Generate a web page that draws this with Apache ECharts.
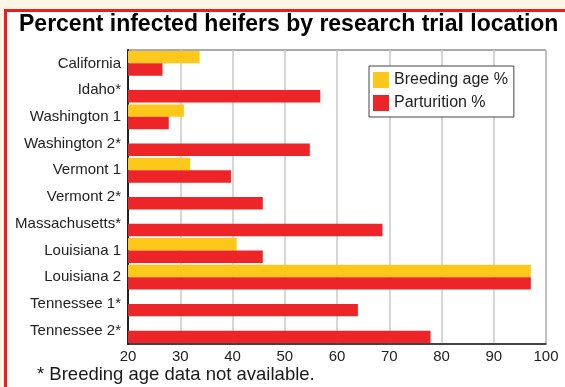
<!DOCTYPE html>
<html>
<head>
<meta charset="utf-8">
<script src="https://cdn.jsdelivr.net/npm/echarts@6/dist/echarts.min.js"></script>
<style>
  html, body { margin: 0; padding: 0; background: #fdf5e6; }
  #chart { width: 565px; height: 387px; }
</style>
</head>
<body>
<div id="chart"></div>
<script>
var locations = ["California", "Idaho*", "Washington 1", "Washington 2*", "Vermont 1", "Vermont 2*",
  "Massachusetts*", "Louisiana 1", "Louisiana 2", "Tennessee 1*", "Tennessee 2*"];
var breedingAge = [33.7, null, 30.7, null, 31.9, null, null, 40.8, 97.1, null, null];
var parturition = [26.6, 56.8, 27.8, 54.8, 39.7, 45.8, 68.7, 45.8, 97.1, 64.0, 77.9];

var chart = echarts.init(document.getElementById("chart"));
var font = "'Liberation Sans', Arial, Helvetica, sans-serif";

var option = {
  backgroundColor: "#fdf5e6",
  animation: false,
  textStyle: { fontFamily: font },
  graphic: [
    {
      type: "rect",
      z: -10,
      shape: { x: 5.5, y: 10.5, width: 700, height: 500 },
      style: { fill: "#ffffff", stroke: "#ee1c1c", lineWidth: 3 }
    },
    {
      type: "text",
      left: 37,
      top: 365,
      style: {
        text: "* Breeding age data not available.",
        font: "18.5px " + font,
        fill: "#1a1a1a"
      }
    }
  ],
  title: {
    text: "Percent infected heifers by research trial location",
    left: 19,
    top: 13,
    padding: 0,
    textStyle: { fontSize: 23, fontWeight: "bold", color: "#000", fontFamily: font }
  },
  legend: {
    orient: "vertical",
    left: 369,
    top: 66,
    padding: [6, 6, 6, 4],
    itemGap: 7,
    itemWidth: 16,
    itemHeight: 16,
    borderColor: "#444",
    borderWidth: 1,
    backgroundColor: "#fff",
    textStyle: { fontSize: 16, color: "#222", fontFamily: font },
    data: [
      { name: "Breeding age %", icon: "rect" },
      { name: "Parturition %", icon: "rect" }
    ]
  },
  grid: {
    left: 128, top: 50, right: 19, bottom: 43,
    show: true, borderColor: "#555", borderWidth: 1
  },
  xAxis: {
    type: "value",
    min: 20, max: 100, interval: 10,
    axisLine: { show: true, lineStyle: { color: "#222", width: 1.5 } },
    axisTick: { show: false },
    axisLabel: { fontSize: 15, color: "#222", margin: 5, fontFamily: font },
    splitLine: { lineStyle: { color: "#c8c8c8", width: 1.5 } }
  },
  yAxis: {
    type: "category",
    inverse: true,
    data: locations,
    axisLine: { show: true, lineStyle: { color: "#222", width: 2 } },
    axisTick: { show: false },
    axisLabel: { fontSize: 15, color: "#222", margin: 7, fontFamily: font }
  },
  series: [
    {
      name: "Breeding age %",
      type: "bar",
      data: breedingAge,
      barGap: "0%",
      barCategoryGap: "7%",
      itemStyle: { color: "#fec81a" }
    },
    {
      name: "Parturition %",
      type: "bar",
      data: parturition,
      barGap: "0%",
      barCategoryGap: "7%",
      itemStyle: { color: "#ee2528" }
    }
  ]
};

chart.setOption(option);
</script>
</body>
</html>
